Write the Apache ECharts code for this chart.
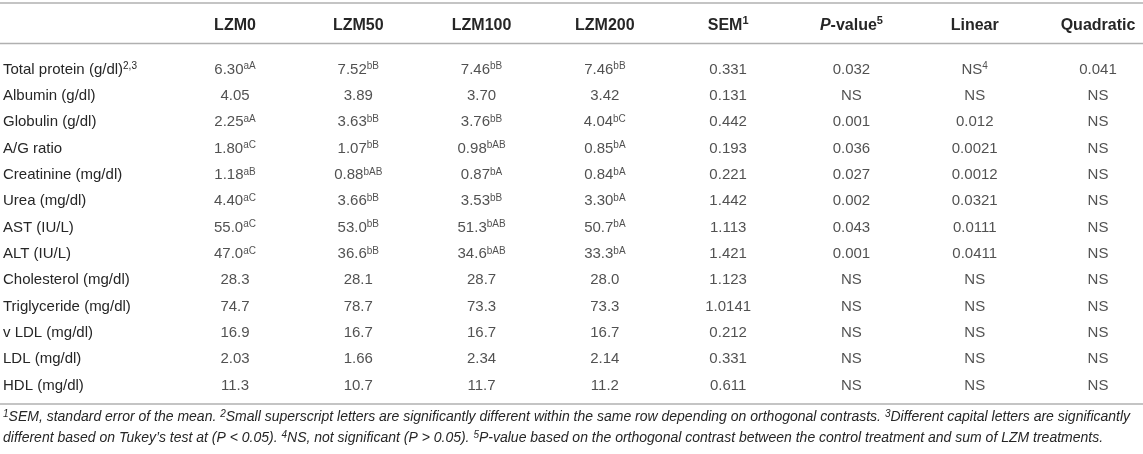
<!DOCTYPE html>
<html><head><meta charset="utf-8">
<script src="https://cdn.jsdelivr.net/npm/echarts@6/dist/echarts.min.js"></script>
<style>html,body{margin:0;padding:0;background:#fff}#c{width:1143px;height:454px}</style>
</head><body><div id="c"></div>
<script>
const columns = ['LZM0','LZM50','LZM100','LZM200','SEM','P-value','Linear','Quadratic'];
const columnSup = ['','','','','1','5','',''];
const rowLabels = ['Total protein (g/dl)','Albumin (g/dl)','Globulin (g/dl)','A/G ratio','Creatinine (mg/dl)','Urea (mg/dl)','AST (IU/L)','ALT (IU/L)','Cholesterol (mg/dl)','Triglyceride (mg/dl)','v LDL (mg/dl)','LDL (mg/dl)','HDL (mg/dl)'];
const rowLabelSup = ['2,3','','','','','','','','','','','',''];
const lzm0 = ['6.30','4.05','2.25','1.80','1.18','4.40','55.0','47.0','28.3','74.7','16.9','2.03','11.3'];
const lzm0Letters = ['aA','','aA','aC','aB','aC','aC','aC','','','','',''];
const lzm50 = ['7.52','3.89','3.63','1.07','0.88','3.66','53.0','36.6','28.1','78.7','16.7','1.66','10.7'];
const lzm50Letters = ['bB','','bB','bB','bAB','bB','bB','bB','','','','',''];
const lzm100 = ['7.46','3.70','3.76','0.98','0.87','3.53','51.3','34.6','28.7','73.3','16.7','2.34','11.7'];
const lzm100Letters = ['bB','','bB','bAB','bA','bB','bAB','bAB','','','','',''];
const lzm200 = ['7.46','3.42','4.04','0.85','0.84','3.30','50.7','33.3','28.0','73.3','16.7','2.14','11.2'];
const lzm200Letters = ['bB','','bC','bA','bA','bA','bA','bA','','','','',''];
const sem = ['0.331','0.131','0.442','0.193','0.221','1.442','1.113','1.421','1.123','1.0141','0.212','0.331','0.611'];
const pValue = ['0.032','NS','0.001','0.036','0.027','0.002','0.043','0.001','NS','NS','NS','NS','NS'];
const linear = ['NS','NS','0.012','0.0021','0.0012','0.0321','0.0111','0.0411','NS','NS','NS','NS','NS'];
const linearSup = ['4','','','','','','','','','','','',''];
const quadratic = ['0.041','NS','NS','NS','NS','NS','NS','NS','NS','NS','NS','NS','NS'];
const noSup = rowLabels.map(() => '');

const colValues = [lzm0, lzm50, lzm100, lzm200, sem, pValue, linear, quadratic];
const colSups = [lzm0Letters, lzm50Letters, lzm100Letters, lzm200Letters, noSup, noSup, linearSup, noSup];

const FONT = '"Liberation Sans", Arial, Helvetica, sans-serif';
const TXT = '#262626';
const LINE = '#b0b0b0';

const cells = [];
colValues.forEach((vals, c) => {
  vals.forEach((v, r) => {
    cells.push([columns[c], rowLabels[r], v, colSups[c][r]]);
  });
});

const bodyRich = {
  v: { fontSize: 15, lineHeight: 16, color: TXT, fontFamily: FONT },
  s: { fontSize: 10, lineHeight: 9, verticalAlign: 'top', color: TXT, fontFamily: FONT }
};

const chart = echarts.init(document.getElementById('c'), null, { renderer: 'canvas' });
chart.setOption({
  animation: false,
  backgroundColor: '#fff',
  grid: { left: 235, right: 45, top: 69.5, bottom: 68.5, containLabel: false },
  xAxis: {
    type: 'category', position: 'top', data: columns, boundaryGap: false,
    axisLine: { show: false }, axisTick: { show: false }, splitLine: { show: false },
    axisLabel: {
      margin: 34, interval: 0,
      formatter: (val, idx) => {
        const sup = columnSup[idx] ? '{hs|' + columnSup[idx] + '}' : '';
        if (val === 'P-value') return '{hi|P}{h|-value}' + sup;
        return '{h|' + val + '}' + sup;
      },
      rich: {
        h: { fontSize: 16, fontWeight: 'bold', lineHeight: 20, color: TXT, fontFamily: FONT },
        hi: { fontSize: 16, fontWeight: 'bold', fontStyle: 'italic', lineHeight: 20, color: TXT, fontFamily: FONT },
        hs: { fontSize: 11, fontWeight: 'bold', lineHeight: 10, verticalAlign: 'top', color: TXT, fontFamily: FONT }
      }
    }
  },
  yAxis: {
    type: 'category', data: rowLabels, inverse: true, boundaryGap: false,
    axisLine: { show: false }, axisTick: { show: false }, splitLine: { show: false },
    axisLabel: {
      align: 'left', margin: 232, interval: 0,
      formatter: (val, idx) => '{v|' + val + '}' + (rowLabelSup[idx] ? '{s|' + rowLabelSup[idx] + '}' : ''),
      rich: bodyRich
    }
  },
  series: [{
    type: 'scatter', symbolSize: 0, data: cells, silent: true,
    label: {
      show: true, position: 'inside', align: 'center',
      formatter: p => '{v|' + p.data[2] + '}' + (p.data[3] ? '{s|' + p.data[3] + '}' : ''),
      rich: bodyRich
    }
  }],
  graphic: [
    { type: 'line', shape: { x1: 0, y1: 3, x2: 1143, y2: 3 }, style: { stroke: LINE, lineWidth: 1.5 } },
    { type: 'line', shape: { x1: 0, y1: 43.5, x2: 1143, y2: 43.5 }, style: { stroke: LINE, lineWidth: 1.5 } },
    { type: 'line', shape: { x1: 0, y1: 404, x2: 1143, y2: 404 }, style: { stroke: LINE, lineWidth: 1.5 } },
    { type: 'text', left: 3, top: 409, style: {
      text: '{s|1}{f|SEM, standard error of the mean. }{s|2}{f|Small superscript letters are significantly different within the same row depending on orthogonal contrasts. }{s|3}{f|Different capital letters are significantly}',
      rich: {
        f: { fontSize: 14, fontStyle: 'italic', lineHeight: 16, fill: TXT, fontFamily: FONT },
        s: { fontSize: 10, fontStyle: 'italic', lineHeight: 9, verticalAlign: 'top', fill: TXT, fontFamily: FONT }
      }
    } },
    { type: 'text', left: 3, top: 430, style: {
      text: '{f|different based on Tukey\u2019s test at (P < 0.05). }{s|4}{f|NS, not significant (P > 0.05). }{s|5}{f|P-value based on the orthogonal contrast between the control treatment and sum of LZM treatments.}',
      rich: {
        f: { fontSize: 14, fontStyle: 'italic', lineHeight: 16, fill: TXT, fontFamily: FONT },
        s: { fontSize: 10, fontStyle: 'italic', lineHeight: 9, verticalAlign: 'top', fill: TXT, fontFamily: FONT }
      }
    } }
  ]
});
</script></body></html>
